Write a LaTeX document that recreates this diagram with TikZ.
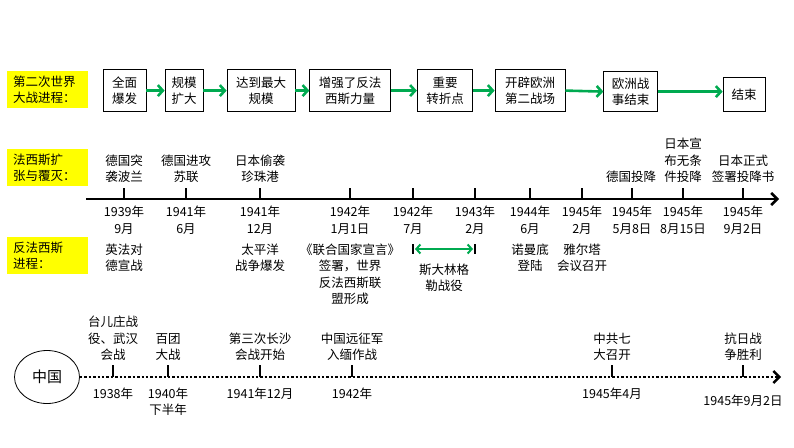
\documentclass[tikz,border=0pt]{standalone}
\usepackage{fontspec}
\setmainfont{Noto Sans CJK SC}
\usetikzlibrary{arrows.meta,shapes.geometric}

\definecolor{tagyellow}{RGB}{255,255,0}
\definecolor{flowgreen}{RGB}{0,170,80}

\tikzset{
  txt/.style={font=\fontsize{12.5}{16.5}\selectfont, align=center, inner sep=1pt},
  tag/.style={txt, fill=tagyellow, align=left, text width=69pt, inner xsep=6pt,
    minimum height=37pt, anchor=north west},
  stage/.style={txt, draw, line width=0.8pt, inner xsep=9pt, minimum height=42pt, anchor=south},
  flow/.style={flowgreen, line width=2.6pt, -{Straight Barb[length=5pt,width=11pt]}},
  axis/.style={line width=2.6pt, -{Straight Barb[length=6pt,width=12pt]}},
  dotaxis/.style={line width=2.4pt, dotted, -{Straight Barb[length=6pt,width=12pt]}},
  tick/.style={line width=2pt}
}

\begin{document}
\begin{tikzpicture}[x=1pt,y=-1pt]
  \useasboundingbox (0,0) rectangle (794,447);

  % stages of the war
  \node[tag] (t1) at (7,71) {第二次世界\\大战进程：};
  \node[stage] (s1) at (124.5,112) {全面\\爆发};
  \node[stage, inner xsep=6.5pt] (s2) at (184,112) {规模\\扩大};
  \node[stage] (s3) at (261,112) {达到最大\\规模};
  \node[stage] (s4) at (350,112) {增强了反法\\西斯力量};
  \node[stage] (s5) at (445,112) {重要\\转折点};
  \node[stage, inner xsep=10pt] (s6) at (530,112) {开辟欧洲\\第二战场};
  \node[stage, inner xsep=8pt, minimum height=40pt] (s7) at (630.5,112) {欧洲战\\事结束};
  \node[stage, inner xsep=8.5pt, minimum height=34pt] (s8) at (744,112) {结束};
  \foreach \a/\b in {s1/s2,s2/s3,s3/s4,s4/s5,s5/s6,s6/s7}
    \draw[flow] (\a.east) -- (\b.west);
  \draw[flow] (s7.east) -- (s7.east -| s8.west);

  % main time axis
  \node[tag] (t2) at (7,149) {法西斯扩\\张与覆灭：};
  \node[tag] (t3) at (7,237) {反法西斯\\进程：};
  \coordinate (a0) at (86,199);
  \coordinate (a1) at (779,199);
  \draw[axis] (a0) -- (a1);
  \foreach \x in {124,186,260,350,413,475,530,582,632,683,743}
  {
    \draw[tick] (\x,199) -- (\x,188);
  }

  \foreach \x/\t [count=\i] in {124/{德国突\\袭波兰}, 186/{德国进攻\\苏联}, 260/{日本偷袭\\珍珠港},
      631/{德国投降}, 683/{日本宣\\布无条\\件投降}, 743/{日本正式\\签署投降书}}
    \node[txt, anchor=south] (up\i) at (\x,184) {\t};

  \foreach \x/\t [count=\i] in {124/{1939年\\9月}, 186/{1941年\\6月}, 260/{1941年\\12月},
      350/{1942年\\1月1日}, 413/{1942年\\7月}, 475/{1943年\\2月}, 530/{1944年\\6月},
      582/{1945年\\2月}, 632/{1945年\\5月8日}, 683/{1945年\\8月15日}, 743/{1945年\\9月2日}}
    \node[txt, anchor=north] (d\i) at (\x,205) {\t};

  \foreach \x/\t [count=\i] in {124/{英法对\\德宣战}, 260/{太平洋\\战争爆发},
      350/{《联合国家宣言》\\签署，世界\\反法西斯联\\盟形成}, 530/{诺曼底\\登陆}, 582/{雅尔塔\\会议召开}}
    \node[txt, anchor=north] (ev\i) at (\x,242.5) {\t};

  \coordinate (sg0) at (413,249);
  \coordinate (sg1) at (475,249);
  \draw[flowgreen, line width=2pt, {Straight Barb[length=4pt,width=9pt]}-{Straight Barb[length=4pt,width=9pt]}]
    ([xshift=2pt]sg0) -- ([xshift=-2pt]sg1);
  \draw[tick] (413,244) -- (413,254);
  \draw[tick] (475,244) -- (475,254);
  \node[txt, anchor=north] (sg) at (444,262.5) {斯大林格\\勒战役};

  % China
  \node[draw, ellipse, line width=0.8pt, minimum width=65pt, minimum height=53pt,
    font=\fontsize{15}{18}\selectfont] (china) at (47,377) {中国};
  \coordinate (c1) at (781,377);
  \draw[dotaxis] (china.east) -- (c1);
  \foreach \x in {113,168,260,352,612,743}
  {
    \draw[tick] (\x,377) -- (\x,365);
  }

  \foreach \x/\t [count=\i] in {113/{台儿庄战\\役、武汉\\会战}, 168/{百团\\大战}, 260/{第三次长沙\\会战开始},
      352/{中国远征军\\入缅作战}, 612/{中共七\\大召开}, 743/{抗日战\\争胜利}}
    \node[txt, anchor=south] (cu\i) at (\x,362) {\t};

  \foreach \x/\t [count=\i] in {113/{1938年}, 168/{1940年\\下半年}, 260/{1941年12月},
      352/{1942年}, 612/{1945年4月}}
    \node[txt, anchor=north] (cd\i) at (\x,386.5) {\t};
  \node[txt, anchor=north] (cd6) at (743,393.5) {1945年9月2日};
\end{tikzpicture}
\end{document}
